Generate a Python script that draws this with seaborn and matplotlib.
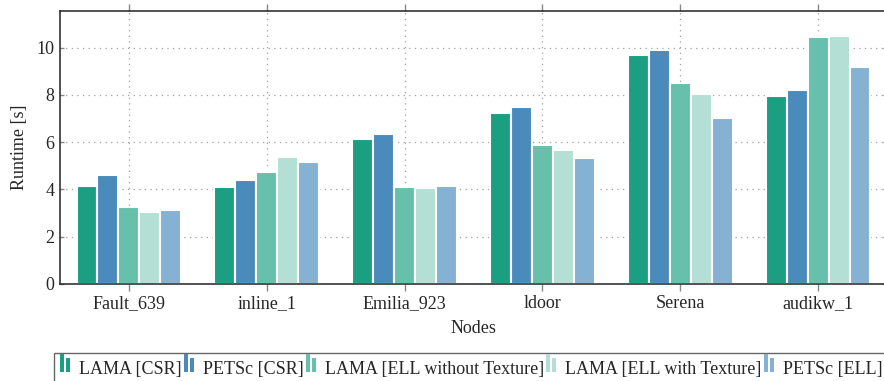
import matplotlib
matplotlib.use("Agg")
import matplotlib.pyplot as plt
from matplotlib.legend_handler import HandlerBase
from matplotlib.patches import Rectangle
import seaborn as sns
import pandas as pd

# Runtime per test matrix (seconds)
nodes = ["Fault_639", "inline_1", "Emilia_923", "ldoor", "Serena", "audikw_1"]
lama_csr = [4.14, 4.11, 6.13, 7.24, 9.70, 7.97]
petsc_csr = [4.62, 4.41, 6.34, 7.48, 9.90, 8.21]
lama_ell_no_tex = [3.25, 4.75, 4.10, 5.89, 8.51, 10.45]
lama_ell_tex = [3.04, 5.39, 4.07, 5.66, 8.03, 10.49]
petsc_ell = [3.13, 5.17, 4.15, 5.35, 7.04, 9.18]

series_names = ["LAMA [CSR]", "PETSc [CSR]", "LAMA [ELL without Texture]",
                "LAMA [ELL with Texture]", "PETSc [ELL]"]
series_values = [lama_csr, petsc_csr, lama_ell_no_tex, lama_ell_tex, petsc_ell]
colors = ["#1b9e81", "#4a8bbb", "#66c0ab", "#b3dfd4", "#85b1d3"]
y_ticks = [0, 2, 4, 6, 8, 10]

rows = []
for name, vals in zip(series_names, series_values):
    for node, v in zip(nodes, vals):
        rows.append({"Node": node, "Runtime": v, "Method": name})
df = pd.DataFrame(rows)

sns.set_style("white")
plt.rcParams["font.family"] = ["Liberation Serif", "DejaVu Serif"]
plt.rcParams["font.size"] = 13

fig = plt.figure(figsize=(8.84, 3.81), dpi=100)
ax = fig.add_axes([60 / 884, 97 / 381, 827 / 884, 273 / 381])

sns.barplot(data=df, x="Node", y="Runtime", hue="Method", order=nodes,
            hue_order=series_names, palette=colors, saturation=1,
            width=0.76, edgecolor="white", linewidth=1.5, ax=ax, errorbar=None)
ax.get_legend().remove()

ax.set_xlim(-0.5, len(nodes) - 0.5)
ax.set_ylim(0, 11.55)
ax.set_yticks(y_ticks)
ax.set_xlabel("Nodes", fontsize=13, labelpad=6)
ax.set_ylabel("Runtime [s]", fontsize=13, labelpad=6)

grid_kw = dict(color="#a0a0a0", linestyle=(0, (1, 3.5)), linewidth=0.9)
ax.grid(True, axis="both", **grid_kw)
ax.set_axisbelow(True)

for side in ["left", "bottom", "top", "right"]:
    ax.spines[side].set_color("#222222")
    ax.spines[side].set_linewidth(1.1)

ax.tick_params(axis="x", which="major", direction="out", length=5, width=1,
               color="#888888", top=True, bottom=True, labelsize=13, pad=3)
ax.tick_params(axis="y", which="major", direction="in", length=3, width=1,
               color="#888888", left=True, right=True, labelsize=13, pad=4)


class TwinBarHandler(HandlerBase):
    """Legend key drawn as two small bars of the series colour (sizes in points)."""

    def create_artists(self, legend, orig_handle, xdescent, ydescent,
                       width, height, fontsize, trans):
        fc = orig_handle.get_facecolor()
        bw = 3.0
        gap = 1.3
        y0 = 2.0
        r1 = Rectangle((-xdescent, y0), bw, 12.5,
                       facecolor=fc, edgecolor="none", transform=trans)
        r2 = Rectangle((-xdescent + bw + gap, y0), bw, 9.5,
                       facecolor=fc, edgecolor="none", transform=trans)
        return [r1, r2]


proxies = [Rectangle((0, 0), 1, 1, facecolor=c) for c in colors]
leg = fig.legend(proxies, series_names, loc="upper left",
                 bbox_to_anchor=(54 / 884, 1 - 353 / 381), ncol=5,
                 handler_map={Rectangle: TwinBarHandler()},
                 handlelength=0.55, handleheight=1.15, handletextpad=0.5,
                 columnspacing=0.12, borderpad=0.35, borderaxespad=0,
                 fontsize=13, fancybox=False, framealpha=1,
                 edgecolor="#666666")
leg.get_frame().set_linewidth(1.0)

fig.savefig("out.png", dpi=100)
